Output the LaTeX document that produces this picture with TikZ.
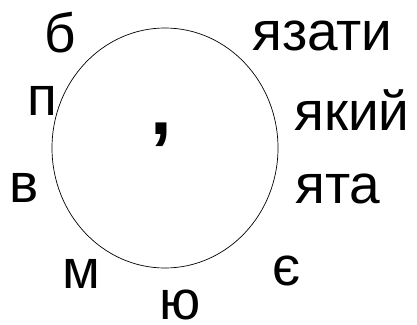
\documentclass[tikz,border=0pt]{standalone}
\usepackage{fontspec}
\setmainfont{Liberation Sans}
\begin{document}
\begin{tikzpicture}[x=1pt,y=-1pt,
  lbl/.style={anchor=base west,inner sep=0pt,font=\fontsize{55}{55}\selectfont}]
\useasboundingbox (0,0) rectangle (417,324);
\draw[line width=0.7pt] (165,148) ellipse [x radius=113, y radius=120];
\node[anchor=base west,inner sep=0pt,font=\fontsize{78}{78}\bfseries] (ap) at (150,134) {,};
\node[lbl] (b) at (44,52) {б};
\node[lbl] (p) at (27,115) {п};
\node[lbl] (v) at (9,202) {в};
\node[lbl] (m) at (62,288) {м};
\node[lbl] (yu) at (159,319) {ю};
\node[lbl] (ye) at (272,285) {є};
\node[lbl] (w1) at (252,50) {язати};
\node[lbl] (w2) at (294,130) {який};
\node[lbl] (w3) at (295,203) {ята};
\end{tikzpicture}
\end{document}
